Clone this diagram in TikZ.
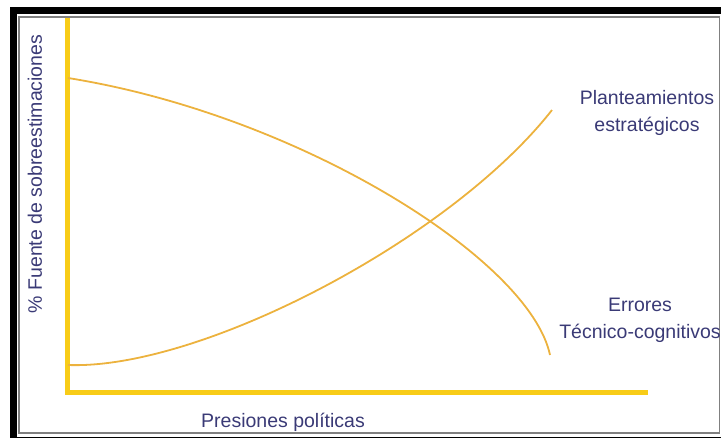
\documentclass[tikz,border=0pt]{standalone}
\usepackage{fontspec}
\setmainfont{Liberation Sans}
\usepackage{tikz}
\usetikzlibrary{positioning,calc}
\usepackage{xcolor}
\definecolor{axisyellow}{RGB}{248,204,24}
\definecolor{curveorange}{RGB}{236,178,62}
\definecolor{labelblue}{RGB}{58,58,118}

\begin{document}
\begin{tikzpicture}[
    x=1pt, y=-1pt,
    axis/.style={draw=axisyellow, line width=5pt},
    curve/.style={draw=curveorange, line width=1.8pt},
    lbl/.style={text=labelblue, font=\fontsize{19.5}{27}\selectfont, align=center, inner sep=0pt}
]
    \useasboundingbox (0,0) rectangle (721,437);

    % Frame
    \draw[black, line width=7pt] (13.5,10.5) rectangle (726,440);
    \draw[gray, line width=1.5pt] (19,17) rectangle (719.5,433);

    % Axes
    \coordinate (origin) at (67,392);
    \coordinate (ytop) at (67,18);
    \coordinate (xend) at (648,392);
    \draw[axis] (ytop) -- (origin) -- (xend);

    % Curves
    \coordinate (tstart) at (68,78);
    \coordinate (tend) at (550,355);
    \coordinate (pstart) at (68,365);
    \coordinate (pend) at (552,110);
    \draw[curve] (tstart) .. controls (300,115) and (530,260) .. (tend);
    \draw[curve] (pstart) .. controls (200,370) and (450,240) .. (pend);

    % Labels
    \node[lbl] (plan) at (647,113) {Planteamientos\\estratégicos};
    \node[lbl] (err) at (640,320) {Errores\\Técnico-cognitivos};
    \node[lbl] (xlabel) at (283,422) {Presiones políticas};
    \node[lbl, rotate=90] (ylabel) at (35,174) {\% Fuente de sobreestimaciones};
\end{tikzpicture}
\end{document}
